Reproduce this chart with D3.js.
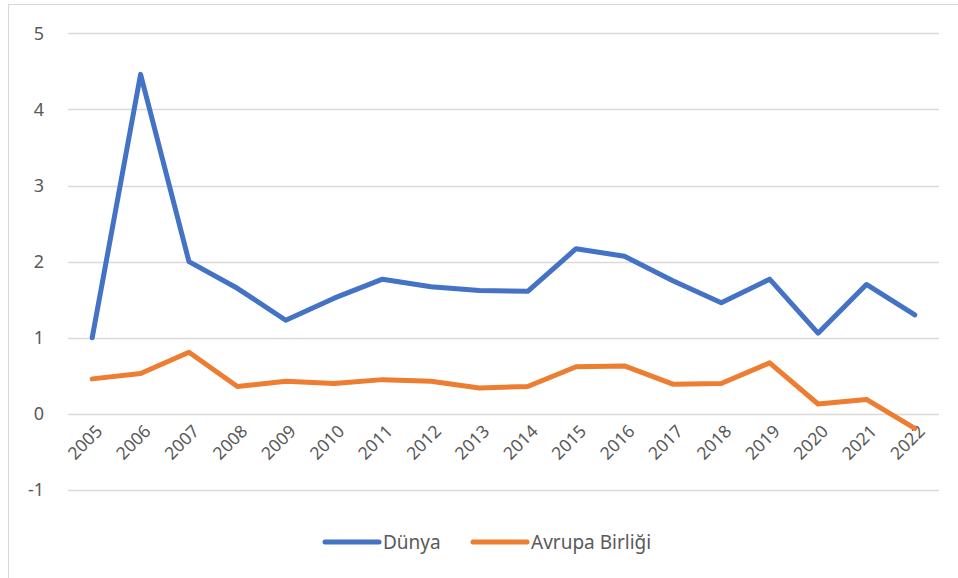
<!DOCTYPE html>
<html>
<head>
  <meta charset="utf-8">
  <title>Dünya ve Avrupa Birliği</title>
  <script src="https://d3js.org/d3.v7.min.js"></script>
  <style>
    body { margin: 0; background: #fff; }
    text { font-family: "Noto Sans", "Open Sans", sans-serif; fill: #595959; }
  </style>
</head>
<body>
  <div id="chart"></div>

  <script>
    var years = ["2005", "2006", "2007", "2008", "2009", "2010", "2011", "2012", "2013",
                 "2014", "2015", "2016", "2017", "2018", "2019", "2020", "2021", "2022"];
    var dunya = [1.00, 4.46, 2.00, 1.65, 1.23, 1.52, 1.77, 1.67, 1.62,
                 1.61, 2.17, 2.07, 1.75, 1.46, 1.77, 1.06, 1.70, 1.30];
    var avrupa = [0.46, 0.53, 0.81, 0.36, 0.43, 0.40, 0.45, 0.43, 0.34,
                  0.36, 0.62, 0.63, 0.39, 0.40, 0.67, 0.13, 0.19, -0.19];
    var yTicks = [-1, 0, 1, 2, 3, 4, 5];
    var seriesNames = ["Dünya", "Avrupa Birliği"];
    var seriesColors = ["#4472c4", "#ed7d31"];

    var width = 958;
    var height = 578;
    var margin = { top: 33, right: 19, bottom: 88, left: 68 };

    var svg = d3.select("#chart")
      .append("svg")
      .attr("width", width)
      .attr("height", height);

    // chart border (only left and top edges visible)
    svg.append("rect")
      .attr("x", 8.5)
      .attr("y", 4.5)
      .attr("width", 980)
      .attr("height", 600)
      .attr("fill", "none")
      .attr("stroke", "#d9d9d9")
      .attr("stroke-width", 1);

    var x = d3.scaleBand()
      .domain(years)
      .range([margin.left, width - margin.right]);

    var y = d3.scaleLinear()
      .domain([-1, 5])
      .range([490, 33.3]);

    // gridlines
    svg.append("g")
      .selectAll("line")
      .data(yTicks)
      .enter()
      .append("line")
      .attr("x1", margin.left)
      .attr("x2", width - margin.right)
      .attr("y1", function(d) { return Math.round(y(d)) + 0.5; })
      .attr("y2", function(d) { return Math.round(y(d)) + 0.5; })
      .attr("stroke", "#d9d9d9")
      .attr("stroke-width", 1.3);

    // y labels
    svg.append("g")
      .selectAll("text")
      .data(yTicks)
      .enter()
      .append("text")
      .attr("x", 44)
      .attr("y", function(d) { return y(d); })
      .attr("dy", "0.36em")
      .attr("text-anchor", "end")
      .style("font-size", "18px")
      .text(function(d) { return d; });

    // x labels, rotated
    svg.append("g")
      .selectAll("text")
      .data(years)
      .enter()
      .append("text")
      .attr("transform", function(d) {
        var cx = x(d) + x.bandwidth() / 2 + 7;
        return "translate(" + cx + "," + 428 + ") rotate(-45)";
      })
      .attr("text-anchor", "end")
      .attr("dy", "0.35em")
      .style("font-size", "17.5px")
      .text(function(d) { return d; });

    var line = d3.line()
      .x(function(d, i) { return x(years[i]) + x.bandwidth() / 2; })
      .y(function(d) { return y(d); });

    [dunya, avrupa].forEach(function(values, i) {
      svg.append("path")
        .datum(values)
        .attr("d", line)
        .attr("fill", "none")
        .attr("stroke", seriesColors[i])
        .attr("stroke-width", 5)
        .attr("stroke-linejoin", "round")
        .attr("stroke-linecap", "round");
    });

    // legend
    var legendX = [325, 473];
    var legend = svg.append("g")
      .selectAll("g")
      .data(seriesNames)
      .enter()
      .append("g")
      .attr("transform", function(d, i) { return "translate(" + legendX[i] + ",542)"; });

    legend.append("line")
      .attr("x1", 0)
      .attr("x2", 54)
      .attr("stroke", function(d, i) { return seriesColors[i]; })
      .attr("stroke-width", 5)
      .attr("stroke-linecap", "round");

    legend.append("text")
      .attr("x", 58)
      .attr("dy", "0.35em")
      .style("font-size", "19px")
      .text(function(d) { return d; });
  </script>
</body>
</html>
